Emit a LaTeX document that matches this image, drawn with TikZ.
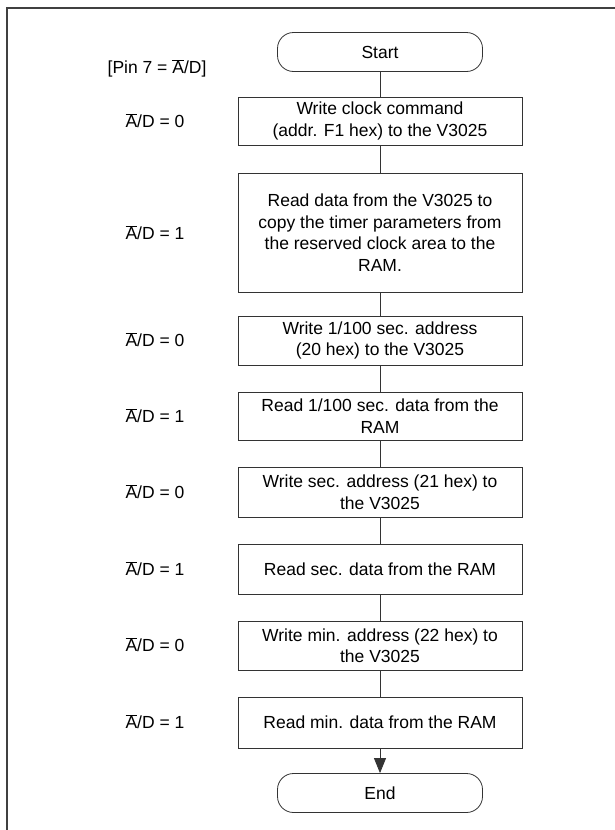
\documentclass[tikz,border=0pt]{standalone}
\usepackage{fontspec}
\setmainfont{Liberation Sans}
\usetikzlibrary{arrows.meta}
\newcommand\Abar{$\overline{\mbox{A}}$}
\begin{document}
\begin{tikzpicture}[x=1pt,y=-1pt,
  font=\fontsize{17.5}{21.5}\selectfont,
  frame/.style={line width=1.6pt,draw=black!75},
  procbox/.style={draw=black!80,line width=0.8pt,minimum width=284pt,align=center,inner sep=2pt},
  term/.style={draw=black!80,line width=0.8pt,minimum width=205pt,minimum height=39pt,rounded corners=16pt},
  lbl/.style={align=center,inner sep=0pt},
  conn/.style={draw=black!80,line width=0.8pt}]
\useasboundingbox (0,0) rectangle (614,830);
\draw[frame] (7,830) -- (7,8) -- (616,8);
\def\cx{380}
\node[term] (start) at (\cx,52) {Start};
\node[procbox,minimum height=48pt] (b1) at (\cx,121) {Write clock command\\(addr. F1 hex) to the V3025};
\node[procbox,minimum height=119pt] (b2) at (\cx,232.5) {Read data from the V3025 to\\copy the timer parameters from\\the reserved clock area to the\\RAM.};
\node[procbox,minimum height=49pt] (b3) at (\cx,340.5) {Write 1/100 sec. address\\(20 hex) to the V3025};
\node[procbox,minimum height=48pt] (b4) at (\cx,416) {Read 1/100 sec. data from the\\RAM};
\node[procbox,minimum height=50pt] (b5) at (\cx,492) {Write sec. address (21 hex) to\\the V3025};
\node[procbox,minimum height=50pt] (b6) at (\cx,569) {Read sec. data from the RAM};
\node[procbox,minimum height=49pt] (b7) at (\cx,645.5) {Write min. address (22 hex) to\\the V3025};
\node[procbox,minimum height=51pt] (b8) at (\cx,722.5) {Read min. data from the RAM};
\node[term] (end) at (\cx,793) {End};
\draw[conn] (start) -- (b1);
\draw[conn] (b1) -- (b2);
\draw[conn] (b2) -- (b3);
\draw[conn] (b3) -- (b4);
\draw[conn] (b4) -- (b5);
\draw[conn] (b5) -- (b6);
\draw[conn] (b6) -- (b7);
\draw[conn] (b7) -- (b8);
\draw[conn,-{Triangle[length=15pt,width=12pt]}] (b8) -- (end);
\node[lbl] (pin) at (157,68) {[Pin 7 = \Abar/D]};
\node[lbl] (l1) at (155,121) {\Abar/D = 0};
\node[lbl] (l2) at (155,233) {\Abar/D = 1};
\node[lbl] (l3) at (155,340) {\Abar/D = 0};
\node[lbl] (l4) at (155,416) {\Abar/D = 1};
\node[lbl] (l5) at (155,492) {\Abar/D = 0};
\node[lbl] (l6) at (155,569) {\Abar/D = 1};
\node[lbl] (l7) at (155,645) {\Abar/D = 0};
\node[lbl] (l8) at (155,722) {\Abar/D = 1};
\end{tikzpicture}
\end{document}
